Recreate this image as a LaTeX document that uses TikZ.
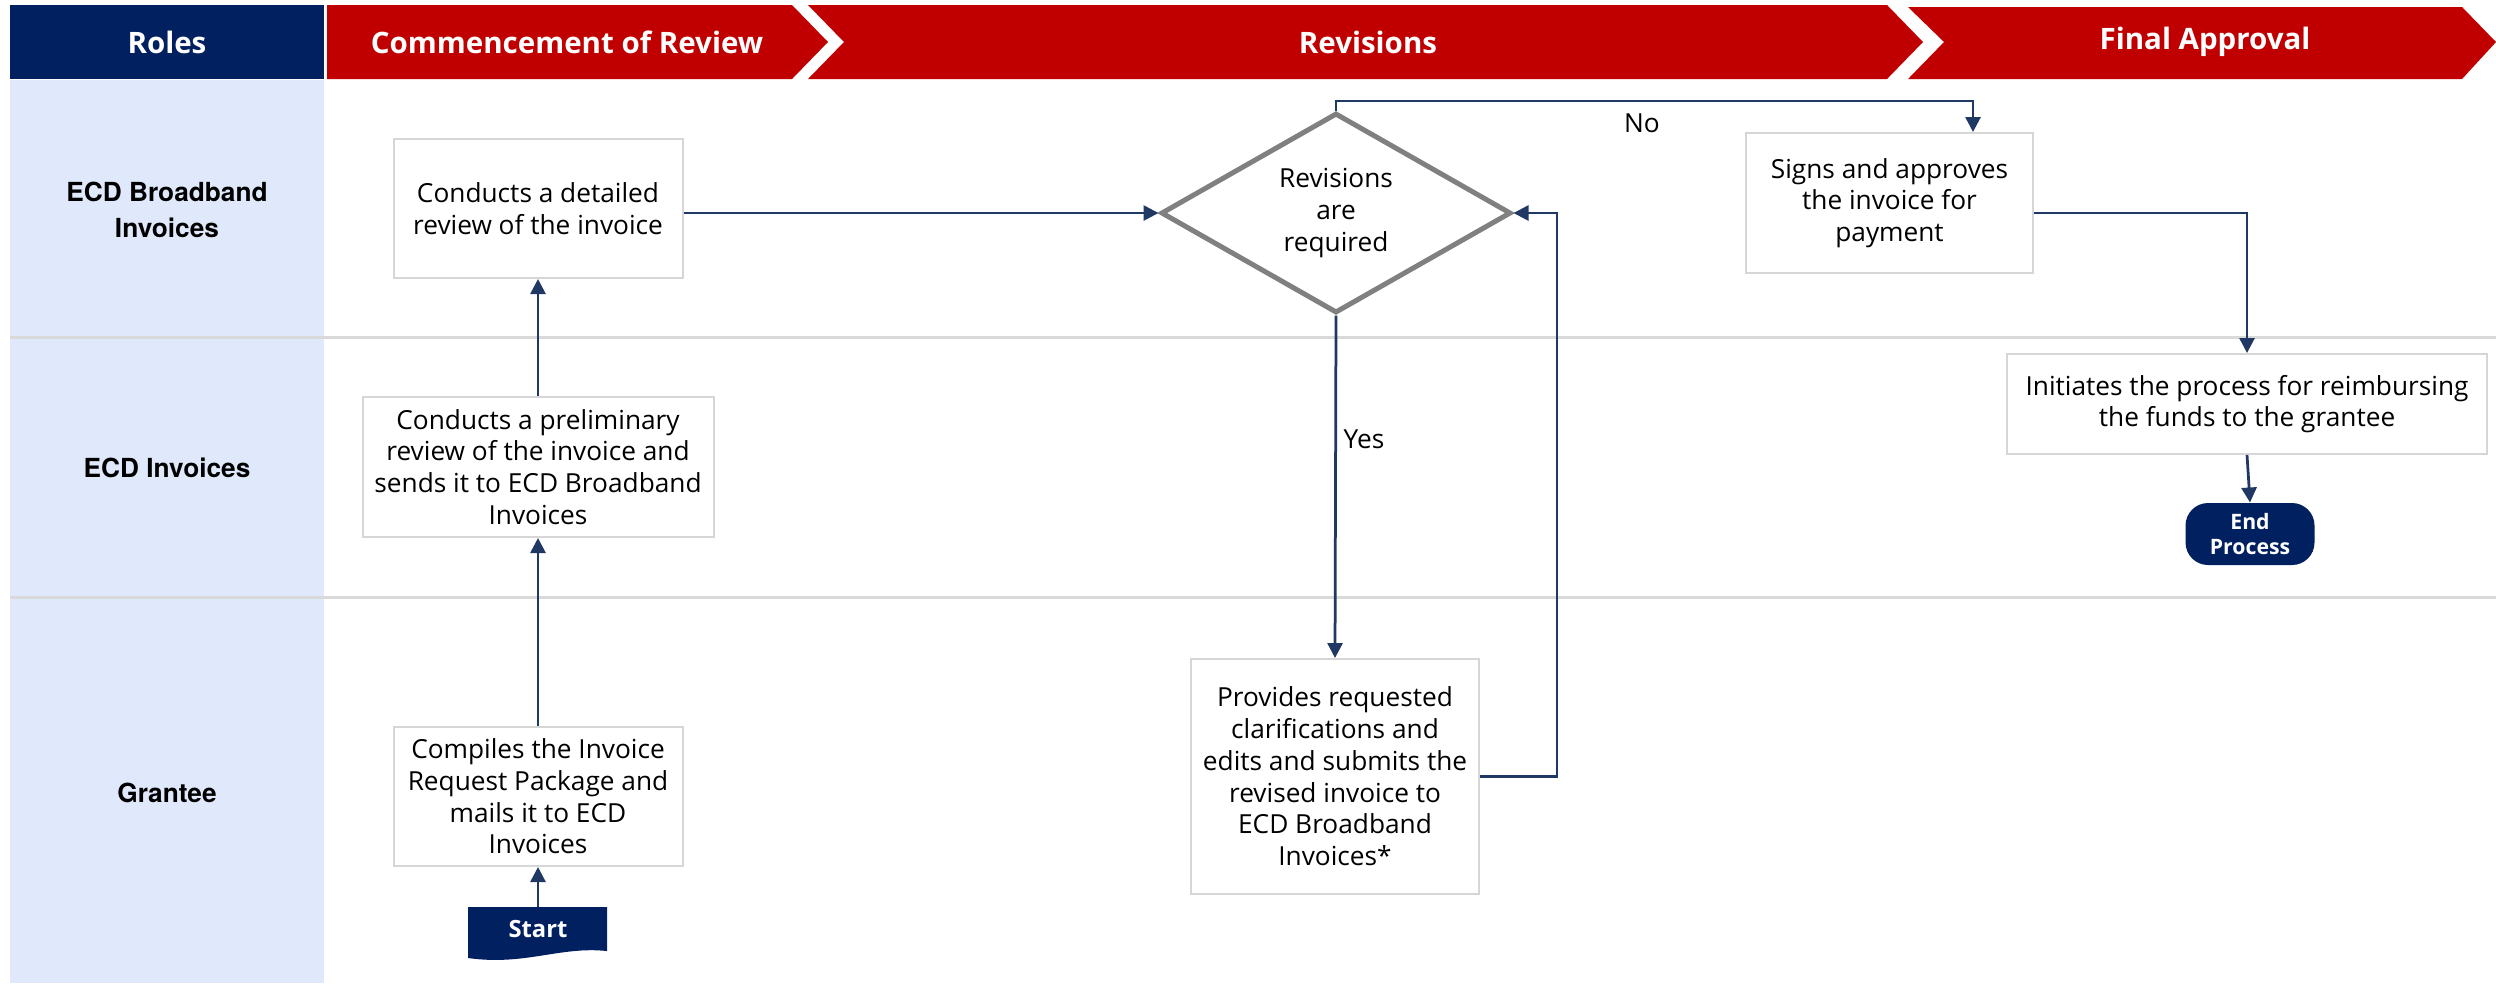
\documentclass[tikz,border=0pt]{standalone}
\usepackage{fontspec}
\setmainfont{Open Sans}
\newfontfamily\rolefont{TeX Gyre Heros}
\usetikzlibrary{shapes.geometric,arrows.meta,calc}
\definecolor{navy}{RGB}{0,32,96}
\definecolor{hdrred}{RGB}{192,0,0}
\definecolor{rolebg}{RGB}{224,232,251}
\definecolor{lanegrey}{RGB}{217,217,217}
\definecolor{boxgrey}{RGB}{214,214,214}
\definecolor{diagrey}{RGB}{128,128,128}
\definecolor{arrowc}{RGB}{31,56,100}
\begin{document}
\begin{tikzpicture}[x=0.4pt,y=-0.4pt,
  box/.style={draw=boxgrey, line width=0.8pt, fill=white, align=center, font=\fontsize{10.5}{12.7}\selectfont, inner sep=2pt},
  flow/.style={draw=arrowc, line width=1.1pt, -{Triangle[length=6pt,width=6pt]}},
  hdr/.style={text=white, font=\bfseries\fontsize{11.8}{14}\selectfont},
  role/.style={font=\rolefont\bfseries\fontsize{10.5}{14.2}\selectfont, align=center},
  lbl/.style={font=\fontsize{10.5}{12.7}\selectfont},
  term/.style={fill=navy, text=white, align=center, inner sep=0pt}]
\useasboundingbox (0,0) rectangle (2496,983);
\fill[white] (0,0) rectangle (2496,983);
% role column
\fill[rolebg] (10,80) rectangle (324,983);
% lane lines
\draw[lanegrey, line width=1pt] (10,337.5) -- (2496,337.5);
\draw[lanegrey, line width=1pt] (10,597.5) -- (2496,597.5);
% header
\fill[navy] (10,5) rectangle (324,79);
\fill[hdrred] (327,5) -- (792,5) -- (828,42) -- (792,79) -- (327,79) -- cycle;
\fill[hdrred] (808,5) -- (1887,5) -- (1923,42) -- (1887,79) -- (808,79) -- (844,42) -- cycle;
\fill[hdrred] (1908,7) -- (2462,7) -- (2496,42) -- (2462,79) -- (1908,79) -- (1944,42) -- cycle;
\node[hdr] (hroles) at (167,42) {Roles};
\node[hdr] (hcomm) at (567,42) {Commencement of Review};
\node[hdr] (hrev) at (1368,42) {Revisions};
\node[hdr] (hfin) at (2205,42) {Final Approval};
% role labels
\node[role] (r1) at (167,210) {ECD Broadband\\Invoices};
\node[role] (r2) at (167,468) {ECD Invoices};
\node[role] (r3) at (167,793) {Grantee};
% boxes
\node[box, minimum width=115.6pt, minimum height=55.6pt] (b1) at (538,208.5) {Conducts a detailed\\review of the invoice};
\node[box, minimum width=140.4pt, minimum height=56pt] (b2) at (538,467) {Conducts a preliminary\\review of the invoice and\\sends it to ECD Broadband\\Invoices};
\node[box, minimum width=115.6pt, minimum height=55.6pt] (b3) at (538,796.5) {Compiles the Invoice\\Request Package and\\mails it to ECD\\Invoices};
% start
\fill[navy] (468,907) -- (607,907) -- (607,951) .. controls (560,946) and (525,966) .. (468,958) -- cycle;
\node[text=white, font=\bfseries\fontsize{9.5}{11}\selectfont, minimum width=55.6pt, minimum height=17.6pt, inner sep=0pt] (start) at (538,929) {Start};
% decision
\node[diamond, aspect=1.75, draw=diagrey, line width=2pt, fill=white, minimum width=140pt, minimum height=80pt, inner sep=0pt, align=center, font=\fontsize{10.5}{12.7}\selectfont] (dia) at (1336,213) {Revisions\\are\\required};
\node[box, minimum width=115.2pt, minimum height=94pt] (b4) at (1335,776.5) {Provides requested\\clarifications and\\edits and submits the\\revised invoice to\\ECD Broadband\\Invoices*};
\node[box, minimum width=114.8pt, minimum height=56pt] (b5) at (1889.5,203) {Signs and approves\\the invoice for\\payment};
\node[box, minimum width=192pt, minimum height=40pt] (b6) at (2247,404) {Initiates the process for reimbursing\\the funds to the grantee};
\node[term, rounded corners=9pt, minimum width=51.6pt, minimum height=24.8pt, font=\bfseries\fontsize{8.5}{9.7}\selectfont] (end) at (2250,534) {End\\Process};
% labels
\node[lbl] (no) at (1642,123) {No};
\node[lbl] (yes) at (1364,439) {Yes};
% connectors
\coordinate (nojog) at (1973,101);
\coordinate (loopx) at (1557,0);
\draw[flow] (start.north) -- (b3.south);
\draw[flow] (b3.north) -- (b2.south);
\draw[flow] (b2.north) -- (b1.south);
\draw[flow] (b1.east |- dia.west) -- (dia.west);
\draw[flow] (dia.north) |- (nojog) -- (nojog |- b5.north);
\draw[flow] (dia.south) -- (b4.north);
\draw[flow] (b4.east) -| (loopx |- dia.east) -- (dia.east);
\draw[flow] (b5.east |- dia.east) -| (b6.north);
\draw[flow] (b6.south) -- (end.north);
\end{tikzpicture}
\end{document}
